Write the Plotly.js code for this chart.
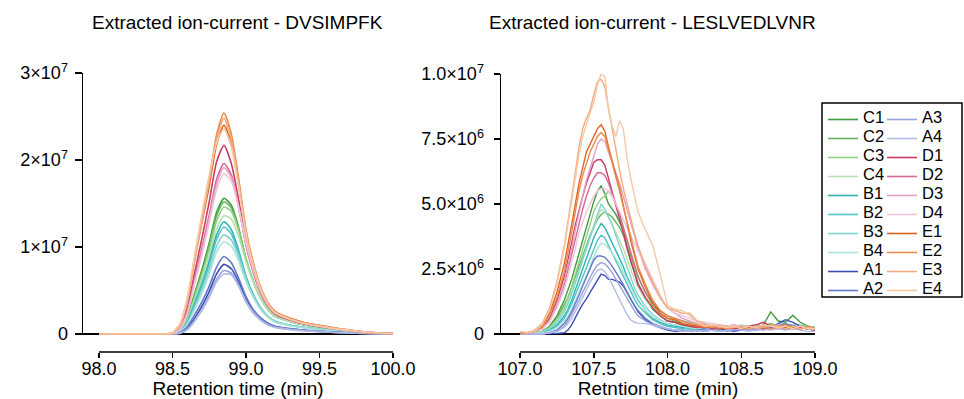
<!DOCTYPE html>
<html><head><meta charset="utf-8">
<script src="https://cdn.plot.ly/plotly-3.0.1.min.js"></script>
<style>html,body{margin:0;padding:0;background:#fff}</style>
</head><body><div id="chart" style="width:964px;height:399px"></div>
<script>
// ---------- data ----------
const sampleNames = ['C1','C2','C3','C4','B1','B2','B3','B4','A1','A2','A3','A4','D1','D2','D3','D4','E1','E2','E3','E4'];
const sampleColors = ['#3f9b3f','#62b55a','#8fcf86','#b8e2ae',
                      '#2bb3b3','#52c2c2','#7fd4cf','#a9e3dc',
                      '#3a4fb5','#6679c9','#95a2db','#b4bce6',
                      '#c93a62','#d56a95','#e3a0c2','#eec5d8',
                      '#e0631f','#e98a4d','#f1ab7f','#f6c8a7'];

const leftTitle = 'Extracted ion-current - DVSIMPFK';
const rightTitle = 'Extracted ion-current - LESLVEDLVNR';
const leftXTitle = 'Retention time (min)';
const rightXTitle = 'Retntion time (min)';

const leftXTicks = [98.0, 98.5, 99.0, 99.5, 100.0];
const leftXTickLabels = ['98.0','98.5','99.0','99.5','100.0'];
const rightXTicks = [107.0, 107.5, 108.0, 108.5, 109.0];
const rightXTickLabels = ['107.0','107.5','108.0','108.5','109.0'];
// intensities in millions
const leftYTicks = [0, 10, 20, 30];
const leftYTickLabels = ['0','1\u00d710<sup>7</sup>','2\u00d710<sup>7</sup>','3\u00d710<sup>7</sup>'];
const rightYTicks = [0, 2.5, 5, 7.5, 10];
const rightYTickLabels = ['0','2.5\u00d710<sup>6</sup>','5.0\u00d710<sup>6</sup>','7.5\u00d710<sup>6</sup>','1.0\u00d710<sup>7</sup>'];

// retention times, DVSIMPFK
const leftTime = [98.0,98.3,98.45,98.5,98.55,98.6,98.65,98.7,98.75,98.8,98.85,98.9,98.95,99.0,99.05,99.1,99.15,99.2,99.3,99.4,99.5,99.6,99.7,99.8,99.9,100.0];
// intensities (x 1e6), DVSIMPFK
const leftC1 = [0,0,0,0.05,0.45,1.9,4.6,7.4,10.5,14.0,15.6,14.8,12.2,8.6,6.0,4.1,2.8,2.0,1.45,1.05,0.8,0.55,0.38,0.2,0.09,0.03];
const leftC2 = [0,0,0,0.04,0.4,1.8,4.4,7.1,10.2,13.6,15.2,14.5,12.0,8.6,6.0,4.1,2.8,2.0,1.45,1.05,0.8,0.55,0.38,0.2,0.09,0.03];
const leftC3 = [0,0,0,0.04,0.38,1.7,4.2,6.8,9.7,13.0,14.6,14.1,11.9,8.7,6.1,4.2,2.9,2.1,1.5,1.1,0.82,0.56,0.38,0.2,0.09,0.03];
const leftC4 = [0,0,0,0.03,0.35,1.6,3.9,6.4,9.1,12.1,13.6,13.2,11.2,8.3,5.9,4.1,2.8,2.0,1.45,1.05,0.8,0.55,0.37,0.2,0.09,0.03];
const leftB1 = [0,0,0,0.03,0.3,1.4,3.5,5.8,8.4,11.4,12.9,12.0,9.6,6.6,4.5,3.0,2.0,1.45,1.0,0.75,0.55,0.38,0.26,0.14,0.06,0.02];
const leftB2 = [0,0,0,0.03,0.28,1.3,3.3,5.5,8.0,10.9,12.3,11.5,9.3,6.5,4.4,3.0,2.0,1.45,1.0,0.75,0.55,0.38,0.26,0.14,0.06,0.02];
const leftB3 = [0,0,0,0.02,0.25,1.2,3.0,5.0,7.4,10.1,11.4,10.8,8.9,6.3,4.3,2.9,2.0,1.4,1.0,0.72,0.53,0.37,0.25,0.13,0.06,0.02];
const leftB4 = [0,0,0,0.02,0.22,1.1,2.8,4.7,6.9,9.4,10.6,10.1,8.4,6.0,4.2,2.8,1.9,1.35,0.95,0.7,0.5,0.35,0.24,0.12,0.05,0.02];
const leftA1 = [0,0,0,0,0.1,0.6,1.8,3.2,4.9,6.9,8.0,7.5,6.0,4.1,2.7,1.8,1.2,0.85,0.6,0.42,0.3,0.2,0.13,0.07,0.03,0.01];
const leftA2 = [0,0,0,0.01,0.15,0.8,2.2,3.7,5.5,7.7,8.9,8.2,6.4,4.3,2.8,1.85,1.25,0.9,0.62,0.44,0.32,0.21,0.14,0.07,0.03,0.01];
const leftA3 = [0,0,0,0,0.08,0.5,1.5,2.8,4.4,6.3,7.3,7.0,5.6,3.7,2.4,1.6,1.05,0.75,0.52,0.37,0.27,0.18,0.12,0.06,0.03,0.01];
const leftA4 = [0,0,0,0,0.08,0.5,1.5,2.7,4.2,6.0,6.9,6.8,5.5,3.7,2.5,1.6,1.05,0.75,0.52,0.37,0.27,0.18,0.12,0.06,0.03,0.01];
const leftD1 = [0,0,0,0.08,0.7,3.0,7.0,11.0,15.2,19.8,21.7,19.6,15.4,10.5,7.2,4.8,3.2,2.3,1.6,1.15,0.85,0.6,0.4,0.22,0.1,0.04];
const leftD2 = [0,0,0,0.07,0.6,2.6,6.3,9.9,13.7,17.8,19.6,18.3,14.6,10.2,7.0,4.7,3.2,2.3,1.6,1.15,0.85,0.6,0.4,0.22,0.1,0.04];
const leftD3 = [0,0,0,0.06,0.55,2.4,6.0,9.5,13.3,17.2,19.1,18.0,14.6,10.4,7.2,4.9,3.3,2.4,1.7,1.2,0.9,0.62,0.42,0.23,0.1,0.04];
const leftD4 = [0,0,0,0.06,0.5,2.3,5.7,9.1,12.8,16.6,18.4,17.6,14.5,10.5,7.4,5.0,3.4,2.5,1.75,1.25,0.92,0.64,0.43,0.24,0.1,0.04];
const leftE1 = [0,0,0,0.15,1.1,3.9,8.5,12.8,17.0,21.8,24.0,21.9,17.2,11.6,7.9,5.2,3.5,2.5,1.8,1.3,1.0,0.7,0.45,0.25,0.12,0.05];
const leftE2 = [0,0,0,0.13,1.0,3.8,8.6,13.2,17.8,22.9,25.4,23.0,17.9,12.0,8.2,5.4,3.6,2.6,1.8,1.3,0.95,0.65,0.45,0.25,0.12,0.05];
const leftE3 = [0,0,0,0.12,0.9,3.6,8.3,13.0,17.6,22.4,24.8,22.3,17.4,11.8,8.0,5.3,3.5,2.5,1.7,1.2,0.95,0.65,0.45,0.25,0.12,0.05];
const leftE4 = [0,0,0,0.15,1.1,4.2,9.0,13.8,18.3,22.0,23.6,21.5,16.9,11.4,7.8,5.1,3.4,2.4,1.7,1.2,0.9,0.62,0.42,0.24,0.12,0.05];

// retention times, LESLVEDLVNR
const rightTime = [107.0,107.05,107.1,107.15,107.2,107.25,107.3,107.325,107.35,107.375,
                   107.4,107.425,107.45,107.475,107.5,107.525,107.55,107.575,107.6,107.625,
                   107.65,107.675,107.7,107.725,107.75,107.775,107.8,107.85,107.9,107.95,
                   108.0,108.05,108.1,108.15,108.2,108.25,108.3,108.35,108.4,108.45,
                   108.5,108.55,108.6,108.65,108.7,108.75,108.8,108.85,108.9,108.95,109.0];
// intensities (x 1e6), LESLVEDLVNR
const rightC1 = [0.05,0.0,0.05,0.1,0.3,0.7,1.3,1.7,2.1,2.6, 3.1,3.6,4.2,4.6,5.1,5.5,5.7,5.4,5.0,4.8, 4.6,4.3,4.0,3.4,2.8,2.4,1.95,1.4,0.95,0.7, 0.5,0.45,0.35,0.3,0.25,0.2,0.3,0.25,0.2,0.25, 0.3,0.2,0.25,0.35,0.85,0.5,0.45,0.72,0.45,0.3, 0.25];
const rightC2 = [0.05,0.05,0.05,0.1,0.25,0.6,1.1,1.4,1.8,2.2, 2.6,3.0,3.4,3.8,4.1,4.4,4.6,4.7,4.6,4.5, 4.3,4.1,3.8,3.4,3.0,2.6,2.2,1.6,1.1,0.8, 0.6,0.5,0.4,0.3,0.25,0.3,0.2,0.25,0.3,0.25, 0.2,0.3,0.35,0.3,0.4,0.3,0.35,0.3,0.25,0.3, 0.2];
const rightC3 = [0.05,0.05,0.05,0.1,0.25,0.55,1.0,1.4,1.8,2.3, 2.8,3.3,3.8,4.3,4.7,5.0,5.2,5.3,5.5,5.3, 5.0,4.6,4.1,3.6,3.1,2.6,2.2,1.6,1.2,0.9, 0.7,0.6,0.5,0.45,0.4,0.35,0.3,0.25,0.3,0.35, 0.3,0.25,0.3,0.25,0.3,0.35,0.4,0.3,0.35,0.3, 0.25];
const rightC4 = [0.05,0.05,0.05,0.1,0.2,0.5,0.9,1.2,1.6,2.0, 2.4,2.9,3.3,3.7,4.1,4.5,4.8,4.7,4.5,4.2, 3.9,3.6,3.3,2.9,2.5,2.1,1.8,1.3,1.0,0.8, 0.6,0.55,0.45,0.4,0.35,0.3,0.35,0.3,0.25,0.3, 0.35,0.3,0.25,0.3,0.35,0.3,0.4,0.35,0.3,0.25, 0.2];
const rightB1 = [0.05,0.0,0.05,0.05,0.15,0.35,0.7,0.95,1.3,1.7, 2.1,2.5,2.9,3.3,3.7,4.0,4.25,4.1,3.8,3.5, 3.2,2.9,2.6,2.2,1.9,1.6,1.3,0.9,0.6,0.45, 0.35,0.3,0.25,0.2,0.2,0.15,0.2,0.25,0.2,0.15, 0.2,0.25,0.2,0.25,0.3,0.25,0.3,0.35,0.3,0.25, 0.2];
const rightB2 = [0.05,0.0,0.05,0.05,0.12,0.3,0.6,0.85,1.15,1.5, 1.85,2.2,2.6,2.95,3.3,3.6,3.8,3.7,3.4,3.1, 2.8,2.5,2.2,1.9,1.6,1.35,1.1,0.8,0.55,0.4, 0.3,0.25,0.2,0.2,0.15,0.2,0.15,0.2,0.25,0.2, 0.15,0.2,0.25,0.2,0.3,0.25,0.2,0.3,0.25,0.2, 0.2];
const rightB3 = [0.05,0.0,0.05,0.1,0.2,0.45,0.85,1.15,1.55,1.95, 2.4,2.85,3.3,3.75,4.2,4.6,5.0,4.8,4.5,4.2, 3.8,3.4,3.0,2.6,2.2,1.8,1.5,1.05,0.75,0.55, 0.4,0.35,0.3,0.25,0.2,0.25,0.2,0.15,0.2,0.25, 0.2,0.15,0.2,0.25,0.2,0.25,0.3,0.25,0.2,0.25, 0.2];
const rightB4 = [0.05,0.0,0.05,0.05,0.1,0.25,0.5,0.7,0.95,1.25, 1.55,1.9,2.25,2.6,2.95,3.3,3.5,3.45,3.3,3.1, 2.9,2.7,2.4,2.1,1.8,1.5,1.25,0.9,0.65,0.5, 0.4,0.35,0.3,0.25,0.2,0.25,0.2,0.25,0.3,0.2, 0.25,0.2,0.3,0.25,0.2,0.3,0.25,0.35,0.3,0.25, 0.2];
const rightA1 = [0.0,0.0,0.0,0.0,0.0,0.02,0.05,0.15,0.35,0.65, 0.9,1.15,1.35,1.6,1.85,2.05,2.3,2.25,2.1,2.1, 2.05,2.0,1.85,1.6,1.35,1.1,0.85,0.55,0.35,0.25, 0.15,0.1,0.1,0.1,0.15,0.1,0.15,0.2,0.15,0.1, 0.15,0.2,0.15,0.2,0.25,0.4,0.55,0.45,0.3,0.2, 0.15];
const rightA2 = [0.0,0.0,0.0,0.0,0.05,0.15,0.4,0.6,0.85,1.15, 1.5,1.85,2.2,2.55,2.85,3.0,3.0,2.95,2.8,2.6, 2.4,2.15,1.9,1.6,1.35,1.1,0.9,0.6,0.4,0.3, 0.2,0.15,0.15,0.1,0.15,0.2,0.15,0.1,0.15,0.2, 0.15,0.2,0.25,0.2,0.3,0.35,0.4,0.3,0.25,0.2, 0.15];
const rightA3 = [0.0,0.0,0.0,0.0,0.05,0.1,0.3,0.5,0.75,1.0, 1.3,1.6,1.9,2.2,2.45,2.65,2.75,2.7,2.55,2.35, 2.1,1.85,1.6,1.35,1.1,0.9,0.7,0.5,0.35,0.25, 0.2,0.15,0.1,0.15,0.1,0.15,0.2,0.15,0.1,0.15, 0.2,0.15,0.2,0.15,0.2,0.25,0.3,0.2,0.25,0.2, 0.15];
const rightA4 = [0.0,0.0,0.0,0.0,0.05,0.1,0.25,0.4,0.6,0.85, 1.1,1.4,1.7,2.0,2.25,2.45,2.5,2.4,2.2,1.9, 1.6,1.3,1.0,0.75,0.55,0.45,0.42,0.4,0.35,0.3, 0.2,0.15,0.1,0.1,0.15,0.1,0.15,0.1,0.15,0.2, 0.15,0.1,0.15,0.2,0.15,0.2,0.15,0.2,0.15,0.1, 0.1];
const rightD1 = [0.05,0.05,0.1,0.25,0.6,1.3,2.2,2.8,3.5,4.2, 4.8,5.3,5.8,6.2,6.6,6.7,6.7,6.5,6.0,5.5, 5.0,4.5,3.9,3.3,2.8,2.3,1.9,1.4,1.0,0.7, 0.5,0.45,0.35,0.3,0.25,0.3,0.2,0.25,0.3,0.2, 0.25,0.3,0.35,0.45,0.3,0.25,0.2,0.3,0.25,0.2, 0.15];
const rightD2 = [0.05,0.05,0.1,0.2,0.5,1.1,1.9,2.5,3.1,3.7, 4.3,4.8,5.3,5.7,6.0,6.2,6.2,6.1,5.8,5.4, 5.0,4.6,4.1,3.6,3.1,2.6,2.2,1.6,1.2,0.9, 0.7,0.6,0.5,0.4,0.3,0.25,0.3,0.2,0.25,0.3, 0.2,0.25,0.3,0.25,0.2,0.3,0.25,0.2,0.3,0.2, 0.15];
const rightD3 = [0.05,0.05,0.1,0.2,0.5,1.1,2.0,2.6,3.3,4.0, 4.7,5.3,5.9,6.4,6.9,7.3,7.5,7.4,7.0,6.6, 6.2,5.8,5.3,4.8,4.3,3.8,3.3,2.5,1.9,1.4, 1.0,0.8,0.6,0.5,0.4,0.35,0.3,0.25,0.3,0.35, 0.25,0.3,0.2,0.25,0.3,0.2,0.25,0.3,0.2,0.25, 0.2];
const rightD4 = [0.05,0.05,0.1,0.2,0.45,1.0,1.7,2.2,2.8,3.3, 3.9,4.3,4.7,5.0,5.3,5.5,5.6,5.6,5.5,5.3, 5.0,4.7,4.4,4.1,3.8,3.5,3.2,2.7,2.1,1.5, 1.0,0.8,0.7,0.6,0.5,0.45,0.4,0.35,0.3,0.35, 0.3,0.25,0.3,0.25,0.3,0.35,0.3,0.25,0.3,0.2, 0.2];
const rightE1 = [0.05,0.05,0.1,0.3,0.8,1.6,2.7,3.4,4.2,5.0, 5.8,6.4,7.0,7.3,7.6,7.9,8.05,7.8,7.2,6.6, 6.1,5.6,5.0,4.3,3.6,3.0,2.5,1.8,1.2,0.8, 0.6,0.55,0.4,0.35,0.3,0.25,0.3,0.2,0.25,0.3, 0.2,0.25,0.3,0.2,0.35,0.3,0.25,0.3,0.2,0.25, 0.2];
const rightE2 = [0.05,0.05,0.1,0.25,0.7,1.4,2.4,3.1,3.9,4.7, 5.5,6.1,6.6,7.0,7.3,7.6,7.75,7.6,7.1,6.6, 6.1,5.5,4.9,4.3,3.7,3.1,2.6,1.9,1.3,0.9, 0.7,0.6,0.5,0.4,0.35,0.3,0.25,0.3,0.2,0.25, 0.3,0.2,0.25,0.3,0.2,0.3,0.35,0.25,0.2,0.3, 0.2];
const rightE3 = [0.1,0.05,0.15,0.4,1.0,2.0,3.4,4.3,5.2,6.2, 7.2,7.9,8.3,8.6,9.2,9.7,9.8,9.5,8.7,7.9, 7.0,6.3,5.6,5.0,4.4,3.9,3.4,2.6,2.0,1.4, 1.0,0.9,0.8,0.8,0.5,0.4,0.3,0.35,0.3,0.25, 0.3,0.2,0.3,0.25,0.35,0.3,0.2,0.3,0.2,0.25, 0.2];
const rightE4 = [0.1,0.05,0.1,0.35,0.9,1.9,3.3,4.2,5.1,6.0, 6.9,7.6,8.1,8.5,8.9,9.6,10.0,9.9,8.6,8.0, 7.6,8.2,7.9,6.8,6.0,5.3,4.7,4.0,3.4,2.3, 1.1,0.95,0.9,0.7,0.45,0.3,0.35,0.3,0.25,0.3, 0.2,0.3,0.25,0.35,0.3,0.25,0.3,0.2,0.3,0.2, 0.2];

const leftSeries = [leftC1,leftC2,leftC3,leftC4,leftB1,leftB2,leftB3,leftB4,leftA1,leftA2,leftA3,leftA4,leftD1,leftD2,leftD3,leftD4,leftE1,leftE2,leftE3,leftE4];
const rightSeries = [rightC1,rightC2,rightC3,rightC4,rightB1,rightB2,rightB3,rightB4,rightA1,rightA2,rightA3,rightA4,rightD1,rightD2,rightD3,rightD4,rightE1,rightE2,rightE3,rightE4];

leftSeries.forEach((s,i)=>{ if (s.length !== leftTime.length) throw new Error('left '+sampleNames[i]+' len '+s.length); });
rightSeries.forEach((s,i)=>{ if (s.length !== rightTime.length) throw new Error('right '+sampleNames[i]+' len '+s.length); });

// ---------- figure ----------
const FONT = 'Liberation Sans, Arial, Helvetica, sans-serif';
const W = 964, H = 399;
const px = v => v / W;          // pixel -> paper x
const py = v => 1 - v / H;      // pixel -> paper y

const traces = [];
sampleNames.forEach((nm, i) => {
  traces.push({
    type: 'scatter', mode: 'lines', x: leftTime, y: leftSeries[i],
    xaxis: 'x', yaxis: 'y',
    name: '<span style="font-size:16.5px">' + nm + '</span>',
    legend: i < 10 ? 'legend' : 'legend2',
    line: {color: sampleColors[i], width: 1.6, shape: 'spline', smoothing: 0.6},
    hoverinfo: 'skip'
  });
});
sampleNames.forEach((nm, i) => {
  traces.push({
    type: 'scatter', mode: 'lines', x: rightTime, y: rightSeries[i],
    xaxis: 'x2', yaxis: 'y2', showlegend: false, name: nm,
    line: {color: sampleColors[i], width: 1.4},
    hoverinfo: 'skip'
  });
});

const axisLineY = py(352);
const common = {showgrid: false, ticks: 'outside', tickcolor: '#000', tickwidth: 1.5,
                tickfont: {family: FONT, size: 18, color: '#000'}};
const xTitleFont = {family: FONT, size: 19, color: '#000'};
const legendFont = {family: FONT, size: 10, color: '#000'};
const titleFont = {family: FONT, size: 19, color: '#000'};

const layout = {
  width: W, height: H,
  margin: {l: 0, r: 0, t: 0, b: 0},
  paper_bgcolor: '#fff', plot_bgcolor: 'rgba(0,0,0,0)',
  font: {family: FONT, color: '#000'},
  xaxis: Object.assign({}, common, {
    domain: [px(83), px(393)], range: [97.891, 100.0],
    anchor: 'free', position: axisLineY, showline: false, zeroline: false,
    tickmode: 'array', tickvals: leftXTicks, ticktext: leftXTickLabels, ticklen: 5,
    ticklabelstandoff: -5,
    title: {text: leftXTitle, font: xTitleFont, standoff: 4}
  }),
  yaxis: Object.assign({}, common, {
    domain: [py(334.87), py(73)], range: [-0.1, 30], anchor: 'x',
    showline: true, linecolor: '#000', linewidth: 1.5,
    zeroline: true, zerolinecolor: '#000', zerolinewidth: 1.5,
    tickmode: 'array', tickvals: leftYTicks, ticktext: leftYTickLabels, ticklen: 7,
    ticklabelstandoff: 3
  }),
  xaxis2: Object.assign({}, common, {
    domain: [px(501), px(815)], range: [106.871, 109.0],
    anchor: 'free', position: axisLineY, showline: false, zeroline: false,
    tickmode: 'array', tickvals: rightXTicks, ticktext: rightXTickLabels, ticklen: 5,
    ticklabelstandoff: -5,
    title: {text: rightXTitle, font: xTitleFont, standoff: 4}
  }),
  yaxis2: Object.assign({}, common, {
    domain: [py(335.04), py(74)], range: [-0.04, 10], anchor: 'x2',
    showline: true, linecolor: '#000', linewidth: 1.5,
    zeroline: true, zerolinecolor: '#000', zerolinewidth: 1.5,
    tickmode: 'array', tickvals: rightYTicks, ticktext: rightYTickLabels, ticklen: 6,
    ticklabelstandoff: 6
  }),
  shapes: [
    {type: 'line', xref: 'x', yref: 'paper', x0: leftXTicks[0], x1: leftXTicks[leftXTicks.length-1],
     y0: axisLineY, y1: axisLineY, line: {color: '#000', width: 1.5}},
    {type: 'line', xref: 'x2', yref: 'paper', x0: rightXTicks[0], x1: rightXTicks[rightXTicks.length-1],
     y0: axisLineY, y1: axisLineY, line: {color: '#000', width: 1.5}},
    {type: 'rect', xref: 'paper', yref: 'paper', x0: px(822), x1: px(962), y0: py(297), y1: py(103),
     line: {color: '#000', width: 1.5}, fillcolor: 'rgba(0,0,0,0)'}
  ],
  annotations: [
    {text: leftTitle, xref: 'paper', yref: 'paper', x: px(237.5), y: py(22), xanchor: 'center', yanchor: 'middle',
     showarrow: false, font: titleFont},
    {text: rightTitle, xref: 'paper', yref: 'paper', x: px(652), y: py(22), xanchor: 'center', yanchor: 'middle',
     showarrow: false, font: titleFont}
  ],
  legend: {x: px(823), xanchor: 'left', y: py(105), yanchor: 'top', bgcolor: 'rgba(0,0,0,0)',
           borderwidth: 0, font: legendFont, itemwidth: 30, tracegroupgap: 0},
  legend2: {x: px(882), xanchor: 'left', y: py(105), yanchor: 'top', bgcolor: 'rgba(0,0,0,0)',
            borderwidth: 0, font: legendFont, itemwidth: 30, tracegroupgap: 0},
  showlegend: true
};

Plotly.newPlot('chart', traces, layout, {displayModeBar: false, staticPlot: true});
</script>
</body></html>
